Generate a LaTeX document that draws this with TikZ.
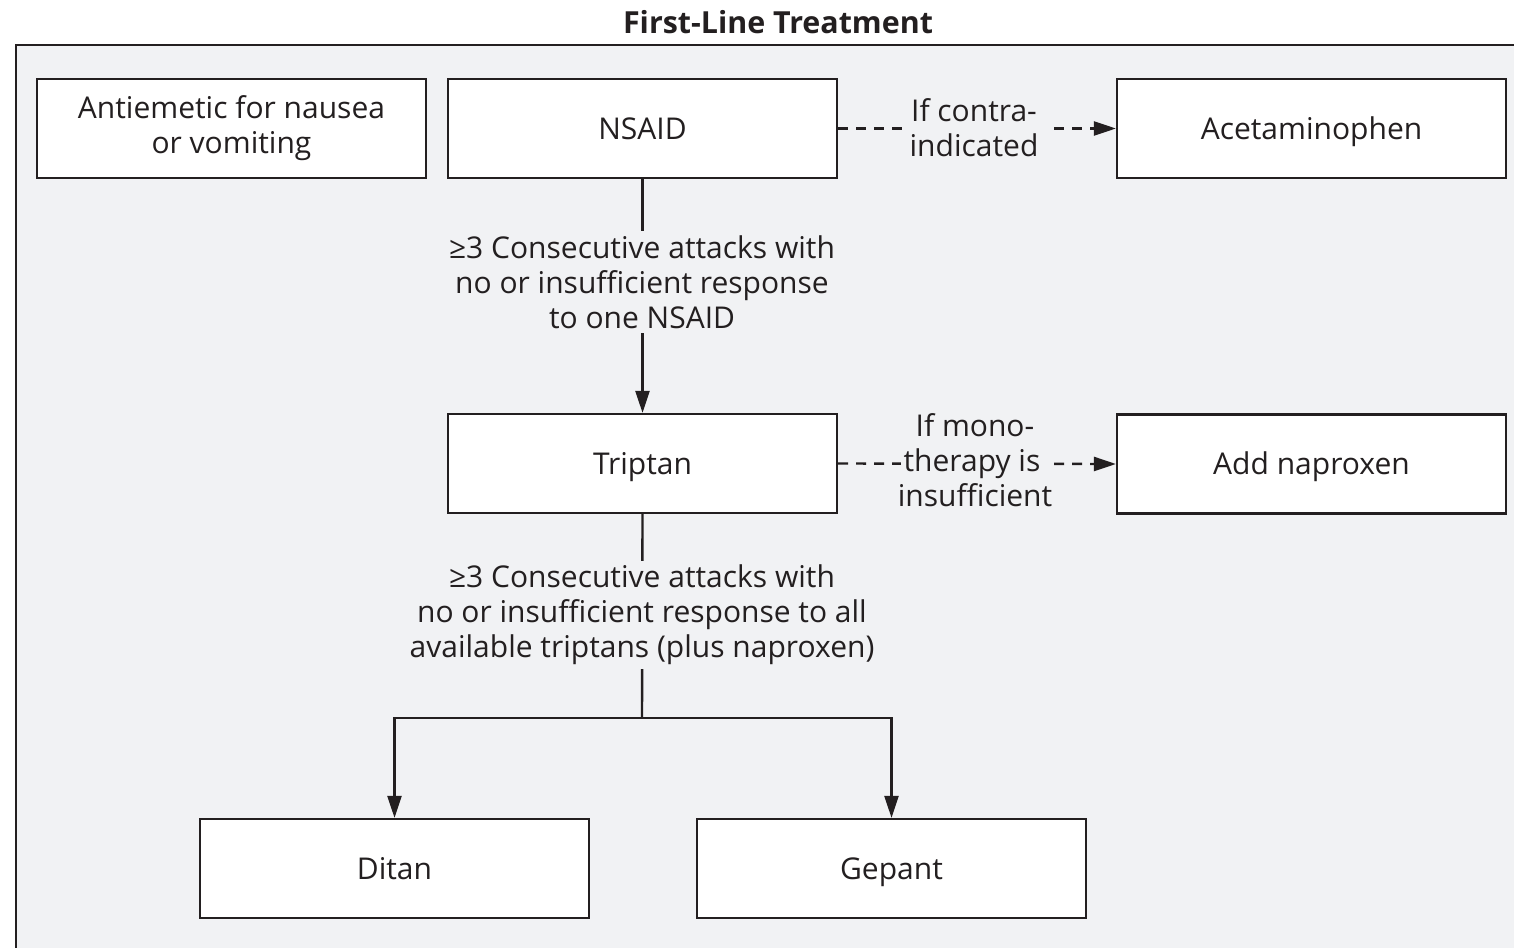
\documentclass[tikz,border=0pt]{standalone}
\usepackage{fontspec}
\setmainfont{Open Sans}
\usetikzlibrary{arrows.meta}
\definecolor{bgc}{HTML}{F1F2F4}
\definecolor{ink}{HTML}{231F20}
\newcommand{\fs}{\fontsize{15}{17.5}\selectfont}
\tikzset{
  box/.style={draw=ink, line width=1.1pt, fill=white, minimum width=194.5pt, minimum height=49.5pt, inner sep=0pt, align=center, font=\fs, text=ink},
  onebox/.style={box, text height=10.7pt, text depth=0pt},
  lbl/.style={fill=bgc, inner sep=2pt, align=center, font=\fs, text=ink},
  conn/.style={draw=ink, line width=1.2pt},
  tip/.style={-{Triangle[length=11pt,width=7pt]}},
  dsh/.style={dash pattern=on 5pt off 4pt}
}
\begin{document}
\begin{tikzpicture}[x=0.5pt,y=-0.5pt]
\useasboundingbox (0,0) rectangle (1514,947);
\clip (0,0) rectangle (1514,947);
\fill[white] (0,0) rectangle (1514,947);
\draw[draw=ink, line width=1.2pt, fill=bgc] (16,45) rectangle (1540,980);
\node[font=\bfseries\fontsize{15.2}{17.5}\selectfont, text=ink] (title) at (778,22) {First-Line Treatment};

\node[box] (anti) at (231.5,128.5) {Antiemetic for nausea\\or vomiting};
\node[onebox] (nsaid) at (642.5,128.5) {NSAID};
\node[onebox] (acet) at (1311.5,128.5) {Acetaminophen};
\node[onebox] (trip) at (642.5,463.5) {Triptan};
\node[onebox] (napr) at (1311.5,464) {Add naproxen};
\node[onebox] (ditan) at (394.5,868.5) {Ditan};
\node[onebox] (gep) at (891.5,868.5) {Gepant};

% NSAID -> Triptan
\draw[conn, tip] (nsaid.south) -- (trip.north);
\node[lbl] (l1) at (642,282) {≥3 Consecutive attacks with\\no or insufficient response\\to one NSAID};

% Triptan -> split
\coordinate (split) at (642,718);
\draw[conn] (trip.south) -- (split);
\draw[conn, tip] (split) -| (ditan.north);
\draw[conn, tip] (split) -| (gep.north);
\node[lbl] (l2) at (642,615) {≥3 Consecutive attacks with\\no or insufficient response to all\\available triptans (plus naproxen)};

% dashed
\draw[conn, dsh, tip] (nsaid.east) -- (acet.west);
\node[lbl, inner xsep=4pt] (l3) at (974,128) {If contra-\\indicated};

\draw[conn, dsh, tip] (trip.east) -- (napr.west);
\node[lbl, inner xsep=1.5pt, inner ysep=1pt] (l4) at (975,464) {therapy is\hspace{3pt}};
\node[text=ink, font=\fs, anchor=base] (l4a) at ([yshift=17.5pt]l4.base) {If mono-};
\node[text=ink, font=\fs, anchor=base] (l4b) at ([yshift=-17.5pt]l4.base) {insufficient};
\end{tikzpicture}
\end{document}
